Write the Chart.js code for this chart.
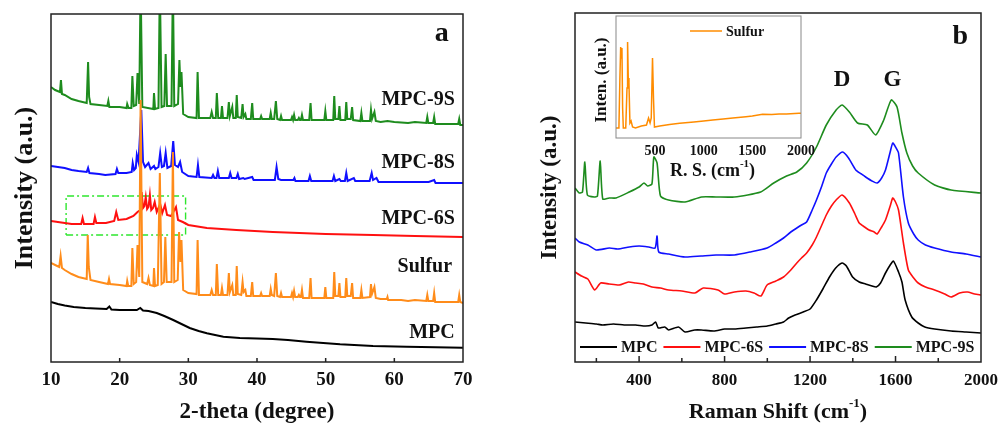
<!DOCTYPE html>
<html>
<head>
<meta charset="utf-8">
<script src="https://cdn.jsdelivr.net/npm/chart.js@4.4.1/dist/chart.umd.min.js"></script>
<style>
  body { margin: 0; background: #fff; width: 1006px; height: 423px; overflow: hidden; position: relative; }
  canvas { position: absolute; top: 0; }
  #xrd { left: 0; }
  #raman { left: 520px; }
  #inset { left: 560px; }
</style>
</head>
<body>
<canvas id="xrd" width="480" height="423"></canvas>
<canvas id="raman" width="486" height="423"></canvas>
<canvas id="inset" width="260" height="185"></canvas>
<script>
// ---- panel a: XRD, [2-theta, intensity a.u. (stacked)] ----
const xrdTicks = [10, 20, 30, 40, 50, 60, 70];
const xrdSulfur = [[10,99],[10.6,97],[11.2,95],[11.4,106],[11.6,94],[12,92],[13,88],[14,85],[15.2,83],[15.35,127],[15.5,95],[15.75,82],[17,80],[18.3,78],[18.45,83],[18.6,78],[20,77],[21.0,76],[21.1,81],[21.25,76],[21.7,76],[21.85,114],[22.05,78],[22.4,80],[22.6,117],[22.85,85],[23.05,262],[23.3,80],[24.0,78],[24.2,84],[24.4,77],[24.9,76],[25.0,94],[25.15,76],[25.55,77],[25.85,189],[26.1,78],[26.45,80],[26.65,125],[26.85,80],[27.55,80],[27.75,210],[27.95,80],[28.45,82],[28.65,130],[28.85,100],[29.0,122],[29.25,72],[30,69],[31.2,68],[31.35,122],[31.55,67],[33.2,67],[33.4,72],[33.6,67],[34.0,67],[34.15,98],[34.35,67],[34.75,67],[34.9,74],[35.05,67],[35.7,67],[35.9,89],[36.05,70],[36.4,77],[36.55,67],[36.9,67],[37.05,96],[37.2,68],[37.7,67],[37.9,80],[38.05,70],[38.3,72],[38.45,66],[39.1,66],[39.3,80],[39.45,66],[40.45,66],[40.6,69],[40.75,66],[41.85,66],[42.0,73],[42.15,67],[42.5,66],[42.75,89],[42.95,66],[43.35,65],[43.5,69],[43.65,65],[44.95,65],[45.1,69],[45.25,65],[45.4,71],[45.55,65],[45.95,65],[46.1,67],[46.25,65],[46.4,65],[46.55,72],[46.7,64],[47.6,64],[47.8,84],[47.95,64],[49.8,64],[49.95,75],[50.1,64],[51.1,64],[51.25,90],[51.4,66],[51.85,66],[52.0,79],[52.15,65],[52.85,65],[53.0,84],[53.15,66],[53.65,66],[53.85,79],[54.0,64],[55.05,64],[55.2,72],[55.35,64],[56.45,65],[56.6,78],[56.75,68],[57.1,75],[57.3,64],[58,63],[58.9,63],[59.0,65],[59.1,62],[60,62],[61,62],[62,61],[63,62],[64.65,61],[64.8,67],[64.95,61],[65.65,61],[65.8,69],[65.95,60],[67,60],[68,60],[69.3,60],[69.45,67],[69.6,60],[70,59]];
const xrdMPC9S = [[10,275],[10.6,272],[11.3,270],[11.45,282],[11.6,268],[12,267],[13,263],[14,261],[15.2,259],[15.4,300],[15.55,265],[15.75,258],[17,257],[18.2,256],[18.35,261],[18.5,255],[20,255],[21.0,254],[21.1,258],[21.3,254],[21.7,254],[21.85,286],[22.05,256],[22.4,257],[22.6,289],[22.85,258],[23.05,380],[23.3,255],[24.9,253],[25.0,269],[25.15,253],[25.65,254],[25.85,380],[26.1,255],[26.5,256],[26.7,308],[26.9,256],[27.55,256],[27.75,380],[27.95,256],[28.5,258],[28.7,302],[28.85,275],[29.0,290],[29.25,248],[30,245],[31.2,244],[31.35,290],[31.55,244],[33.2,244],[33.4,250],[33.6,244],[34.0,244],[34.15,269],[34.35,244],[34.75,244],[34.9,256],[35.05,244],[35.7,244],[35.9,260],[36.05,246],[36.4,255],[36.55,244],[36.9,244],[37.05,267],[37.2,245],[37.7,244],[37.9,258],[38.05,245],[38.3,248],[38.45,243],[39.1,243],[39.3,259],[39.45,243],[40.45,243],[40.6,246],[40.75,243],[41.85,243],[42.0,249],[42.15,243],[42.5,243],[42.75,261],[42.95,243],[43.35,242],[43.5,246],[43.65,242],[44.95,242],[45.1,245],[45.25,242],[45.4,247],[45.55,242],[45.95,242],[46.1,244],[46.25,242],[46.4,242],[46.55,247],[46.7,242],[47.6,242],[47.8,259],[47.95,242],[49.8,242],[49.95,251],[50.1,242],[51.1,242],[51.25,266],[51.4,243],[51.85,243],[52.0,256],[52.15,242],[52.85,242],[53.0,260],[53.15,243],[53.65,243],[53.85,255],[54.0,242],[55.05,241],[55.2,249],[55.35,241],[56.45,241],[56.6,252],[56.75,243],[57.1,250],[57.3,241],[58,240],[59,241],[60,240],[62,239],[63,240],[64.65,239],[64.8,245],[64.95,239],[65.65,239],[65.8,245],[65.95,238],[67,238],[69.3,238],[69.45,243],[69.6,237],[70,237]];
const xrdMPC8S = [[10,196],[11,195],[12,194],[13,192],[14,191],[15.2,190],[15.4,194],[15.6,189],[17,188],[17.9,187],[19.4,188],[19.6,193],[19.8,189],[21,189],[21.75,190],[21.9,199],[22.1,192],[22.35,194],[22.5,207],[22.75,200],[23.15,252],[23.4,200],[23.7,195],[24.2,199],[24.5,193],[25.0,196],[25.2,193],[25.65,195],[25.9,209],[26.15,195],[26.45,196],[26.7,209],[26.95,194],[27.5,196],[27.8,221],[28.05,197],[28.5,195],[28.8,200],[29.1,190],[30,186],[31.2,185],[31.4,197],[31.6,185],[33.4,184],[33.6,187],[33.8,184],[34.1,184],[34.3,191],[34.5,184],[35.9,184],[36.1,189],[36.3,184],[37.0,184],[37.2,188],[37.4,183],[38,184],[38.2,183],[39.3,185],[39.5,182],[42.6,182],[42.85,195],[43.1,183],[43.5,182],[45.3,182],[45.45,184],[45.6,181],[47.5,181],[47.7,186],[47.9,181],[51.0,181],[51.2,186],[51.4,181],[52.0,183],[52.2,181],[52.8,181],[53.0,189],[53.2,181],[54.1,184],[54.3,181],[56.4,181],[56.7,189],[56.9,182],[57.4,184],[57.7,180],[60,180],[65,180],[65.8,182],[66,179],[70,179]];
const xrdMPC6S = [[10,141],[11,140],[12,139],[13,138],[14.4,138],[14.6,144],[14.8,138],[16.2,138],[16.4,145],[16.6,139],[18,139],[19.2,141],[19.5,150],[19.8,142],[21,143],[22,146],[22.6,150],[23.0,152],[23.2,170],[23.4,154],[23.6,156],[23.8,165],[24.0,153],[24.2,155],[24.4,167],[24.6,152],[24.85,154],[25.1,160],[25.4,150],[25.9,158],[26.2,149],[26.6,157],[26.9,147],[27.5,146],[28.2,155],[28.5,142],[29.2,140],[30,137],[32.7,134],[37,132],[42.3,130],[50,128],[56.9,127],[63,126],[70,125]];
const xrdMPC = [[10,60],[11,58],[12,56.5],[13.3,55],[15,54],[16.5,53.5],[18.1,53],[18.5,55.5],[18.8,52.5],[20,52],[21.5,52],[22.5,52],[23.0,54],[23.4,51.5],[24.2,51],[25.4,49],[26.5,46],[27.8,42],[29,38],[30.2,34],[31.5,31],[32.7,28.7],[35.1,25.3],[37.5,24],[40,23.5],[42.3,23],[44.5,22],[47.2,20.3],[52.1,17.7],[56.9,16],[61.8,15.3],[66,14.8],[70,14.3]];
const xrdBoxX = [12.2, 29.6];
const xrdBoxY = [127, 166];

// ---- panel b: Raman, [shift cm-1, intensity a.u. (stacked)] ----
const ramanMajorTicks = [400, 800, 1200, 1600, 2000];
const ramanMinorTicks = [200, 600, 1000, 1400, 1800];
const ramanMPC = [[100,40],[150,39],[200,38],[230,37],[280,38],[330,37],[384,37],[430,36],[460,37],[477,40],[490,34],[520,35],[538,32],[584,35],[615,30],[660,32],[692,32],[750,31],[800,33],[846,33],[900,34],[950,35],[1000,36],[1040,38],[1076,40],[1100,44],[1130,47],[1168,50],[1200,53],[1230,62],[1260,73],[1291,85],[1320,94],[1350,99],[1370,96],[1399,85],[1430,80],[1460,78],[1490,76],[1510,75],[1530,79],[1553,89],[1575,97],[1590,101],[1614,90],[1630,80],[1645,62],[1676,45],[1706,39],[1737,35],[1783,33],[1860,31],[1930,30],[2000,29]];
const ramanMPC6S = [[100,90],[130,86],[160,83],[192,72],[220,79],[260,78],[307,77],[350,80],[384,79],[420,78],[460,75],[500,74],[538,72],[600,71],[661,69],[700,74],[769,72],[800,68],[846,70],[900,71],[938,69],[970,66],[999,77],[1040,81],[1076,85],[1110,92],[1138,99],[1160,104],[1184,109],[1210,117],[1230,125],[1255,137],[1276,147],[1300,156],[1322,162],[1350,167],[1384,159],[1410,148],[1430,139],[1455,135],[1476,132],[1500,130],[1514,128],[1535,135],[1553,142],[1575,156],[1587,164],[1600,160],[1614,152],[1637,119],[1660,92],[1685,84],[1706,79],[1740,75],[1783,72],[1830,68],[1860,65],[1900,69],[1937,70],[1970,68],[2000,67]];
const ramanMPC8S = [[100,124],[120,120],[160,117],[200,112],[261,114],[300,113],[354,115],[400,116],[446,115],[475,114],[484,126],[492,110],[538,108],[615,105],[690,106],[760,107],[846,107],[920,110],[999,114],[1040,119],[1076,124],[1110,130],[1138,134],[1160,137],[1184,140],[1210,152],[1230,162],[1255,176],[1276,189],[1300,198],[1322,205],[1353,210],[1380,204],[1414,192],[1440,188],[1460,185],[1490,181],[1514,179],[1535,184],[1553,192],[1575,210],[1587,219],[1600,215],[1614,209],[1637,165],[1660,139],[1685,128],[1706,122],[1740,117],[1783,114],[1860,110],[1930,108],[2000,105]];
const ramanMPC9S = [[100,174],[120,169],[135,170],[146,200],[158,167],[190,165],[205,166],[218,201],[230,163],[260,164],[292,164],[354,170],[400,175],[423,179],[440,176],[460,178],[469,205],[484,199],[500,166],[538,162],[615,160],[692,165],[760,165],[846,165],[969,170],[1030,179],[1090,186],[1138,190],[1184,199],[1230,215],[1276,237],[1322,252],[1350,257],[1384,250],[1422,239],[1468,237],[1507,227],[1545,242],[1580,262],[1607,255],[1630,229],[1653,209],[1680,196],[1706,189],[1783,177],[1860,172],[2000,169]];

// ---- inset: Raman of sulfur ----
const insetTicks = [500, 1000, 1500, 2000];
const insetSulfur = [[100,10],[130,10],[140,60],[148,91],[155,80],[161,90],[168,30],[175,10],[200,10],[213,50],[219,96],[226,60],[233,55],[243,15],[255,17],[270,11],[300,10],[360,12],[413,13],[434,20],[450,15],[462,20],[475,80],[485,40],[495,11],[549,12],[650,13.5],[754,14.7],[900,16],[1000,17],[1094,18],[1200,19],[1300,20],[1435,21.3],[1500,22],[1605,23.7],[1700,23.5],[1775,24],[1850,24],[1979,24.7],[2000,24.7]];

const SERIF = '"Liberation Serif", "Times New Roman", serif';
const INK = '#111';

function series(label, points, color, width, tension) {
  return {
    label: label,
    data: points.map(p => ({ x: p[0], y: p[1] })),
    borderColor: color,
    borderWidth: width,
    pointRadius: 0,
    showLine: true,
    fill: false,
    tension: tension || 0
  };
}

// draws a run of text pieces (for superscripts) aligned at x,y
function drawRich(ctx, parts, x, y, align, rotate) {
  ctx.save();
  ctx.translate(x, y);
  if (rotate) ctx.rotate(-Math.PI / 2);
  ctx.fillStyle = INK;
  ctx.textBaseline = 'middle';
  ctx.textAlign = 'left';
  let w = 0;
  parts.forEach(p => {
    ctx.font = 'bold ' + p[1] + 'px ' + SERIF;
    w += ctx.measureText(p[0]).width;
  });
  let cx = align === 'right' ? -w : (align === 'left' ? 0 : -w / 2);
  parts.forEach(p => {
    ctx.font = 'bold ' + p[1] + 'px ' + SERIF;
    ctx.fillText(p[0], cx, p[2] || 0);
    cx += ctx.measureText(p[0]).width;
  });
  ctx.restore();
}

// box round the plot + inward tick marks on the bottom axis
function framePlugin(color, width, major, majorLen, minor, minorLen) {
  return {
    id: 'frame',
    afterDatasetsDraw(chart) {
      const { ctx, chartArea: a, scales } = chart;
      ctx.save();
      ctx.strokeStyle = color;
      ctx.lineWidth = width;
      ctx.beginPath();
      major.forEach(v => {
        const px = scales.x.getPixelForValue(v);
        ctx.moveTo(px, a.bottom);
        ctx.lineTo(px, a.bottom - majorLen);
      });
      minor.forEach(v => {
        const px = scales.x.getPixelForValue(v);
        ctx.moveTo(px, a.bottom);
        ctx.lineTo(px, a.bottom - minorLen);
      });
      ctx.stroke();
      ctx.strokeRect(a.left, a.top, a.right - a.left, a.bottom - a.top);
      ctx.restore();
    }
  };
}

// labels placed in data coords, plus x / y axis titles offset from the chart area
function notesPlugin(labels, xTitle, xTitleDx, xTitleDy, yTitle, yTitleDx, yTitleDy) {
  return {
    id: 'notes',
    afterDraw(chart) {
      const { ctx, chartArea: a, scales } = chart;
      labels.forEach(n => {
        drawRich(ctx, [[n.t, n.size]], scales.x.getPixelForValue(n.x), scales.y.getPixelForValue(n.y), n.align || 'center', false);
      });
      drawRich(ctx, xTitle, (a.left + a.right) / 2 + xTitleDx, a.bottom + xTitleDy, 'center', false);
      drawRich(ctx, yTitle, a.left + yTitleDx, (a.top + a.bottom) / 2 + yTitleDy, 'center', true);
    }
  };
}

// a row of legend entries inside the plot
function rowLegendPlugin(dx, dy, fromTop, line, gap, size, lineWidth) {
  return {
    id: 'rowLegend',
    afterDraw(chart) {
      const { ctx, chartArea: a } = chart;
      let x = a.left + dx;
      const y = fromTop ? a.top + dy : a.bottom - dy;
      ctx.save();
      ctx.textBaseline = 'middle';
      ctx.font = 'bold ' + size + 'px ' + SERIF;
      chart.data.datasets.forEach(ds => {
        ctx.strokeStyle = ds.borderColor;
        ctx.lineWidth = lineWidth;
        ctx.beginPath();
        ctx.moveTo(x, y);
        ctx.lineTo(x + line, y);
        ctx.stroke();
        x += line + 4;
        ctx.fillStyle = INK;
        ctx.fillText(ds.label, x, y + 1);
        x += ctx.measureText(ds.label).width + gap;
      });
      ctx.restore();
    }
  };
}

const plain = v => String(v);

function xScale(min, max, ticks, size, padding, height) {
  return {
    type: 'linear', min: min, max: max,
    grid: { display: false, drawTicks: false },
    border: { display: false },
    ticks: { font: { family: SERIF, size: size, weight: 'bold' }, color: INK, padding: padding, callback: plain },
    afterBuildTicks: s => { s.ticks = ticks.map(v => ({ value: v })); },
    afterFit: s => { s.height = height; }
  };
}

const quiet = { legend: { display: false }, tooltip: { enabled: false } };

// ---------- panel a ----------
new Chart(document.getElementById('xrd'), {
  type: 'scatter',
  data: {
    datasets: [
      series('Sulfur', xrdSulfur, '#ff8c1a', 2),
      series('MPC-8S', xrdMPC8S, '#1010ff', 2),
      series('MPC-9S', xrdMPC9S, '#1e8c1e', 2),
      series('MPC-6S', xrdMPC6S, '#ff1010', 2),
      series('MPC', xrdMPC, '#000000', 2),
      Object.assign(series('box', [
        [xrdBoxX[0], xrdBoxY[0]], [xrdBoxX[1], xrdBoxY[0]], [xrdBoxX[1], xrdBoxY[1]],
        [xrdBoxX[0], xrdBoxY[1]], [xrdBoxX[0], xrdBoxY[0]]
      ], '#2ee62e', 1.4), { borderDash: [7, 3, 2, 3] })
    ]
  },
  options: {
    responsive: false,
    animation: false,
    events: [],
    layout: { padding: { left: 51, right: 17, top: 14, bottom: 0 }, autoPadding: false },
    scales: {
      x: xScale(10, 70, xrdTicks, 19, 7, 61),
      y: { display: false, min: 0, max: 348 }
    },
    plugins: quiet
  },
  plugins: [
    framePlugin('#222', 1.5, xrdTicks.slice(1, -1), 4, [], 0),
    notesPlugin([
      { t: 'a', size: 28, x: 66.9, y: 328 },
      { t: 'MPC-9S', size: 20, x: 68.8, y: 262, align: 'right' },
      { t: 'MPC-8S', size: 20, x: 68.8, y: 199, align: 'right' },
      { t: 'MPC-6S', size: 20, x: 68.8, y: 143, align: 'right' },
      { t: 'Sulfur', size: 20, x: 68.4, y: 95, align: 'right' },
      { t: 'MPC', size: 20, x: 68.8, y: 29, align: 'right' }
    ], [['2-theta (degree)', 23]], 0, 50, [['Intensity (a.u.)', 26]], -26, 0)
  ]
});

// ---------- panel b ----------
new Chart(document.getElementById('raman'), {
  type: 'scatter',
  data: {
    datasets: [
      series('MPC', ramanMPC, '#000000', 1.6, 0.2),
      series('MPC-6S', ramanMPC6S, '#ff1010', 1.6, 0.2),
      series('MPC-8S', ramanMPC8S, '#1010ff', 1.6, 0.2),
      series('MPC-9S', ramanMPC9S, '#1e8c1e', 1.6, 0.2)
    ]
  },
  options: {
    responsive: false,
    animation: false,
    events: [],
    layout: { padding: { left: 55, right: 19, top: 13, bottom: 0 }, autoPadding: false },
    scales: {
      x: xScale(100, 2000, ramanMajorTicks, 17, 8, 61),
      y: { display: false, min: 0, max: 349 }
    },
    plugins: quiet
  },
  plugins: [
    framePlugin('#222', 1.5, ramanMajorTicks.slice(0, -1), 6, ramanMinorTicks, 4),
    notesPlugin([
      { t: 'b', size: 28, x: 1903, y: 325 },
      { t: 'D', size: 23, x: 1350, y: 282 },
      { t: 'G', size: 23, x: 1585, y: 282 }
    ], [['Raman Shift (cm', 22], ['-1', 13, -8], [')', 22]], 0, 50, [['Intensity (a.u.)', 23]], -25, 0),
    rowLegendPlugin(5, 15, false, 37, 6, 16, 2)
  ]
});

// ---------- inset ----------
new Chart(document.getElementById('inset'), {
  type: 'scatter',
  data: { datasets: [series('Sulfur', insetSulfur, '#ff8c00', 1.5)] },
  options: {
    responsive: false,
    animation: false,
    events: [],
    layout: { padding: { left: 56, right: 18, top: 16, bottom: 0 }, autoPadding: false },
    scales: {
      x: xScale(100, 2000, insetTicks, 14, 5, 47),
      y: { display: false, min: 0, max: 122 }
    },
    plugins: quiet
  },
  plugins: [
    framePlugin('#888', 1, [], 0, [], 0),
    notesPlugin([], [['R. S. (cm', 18], ['-1', 11, -7], [')', 18]], 4, 33, [['Inten. (a.u.)', 17]], -14, 3),
    rowLegendPlugin(74, 15, true, 32, 0, 14, 1.5)
  ]
});
</script>
</body>
</html>
